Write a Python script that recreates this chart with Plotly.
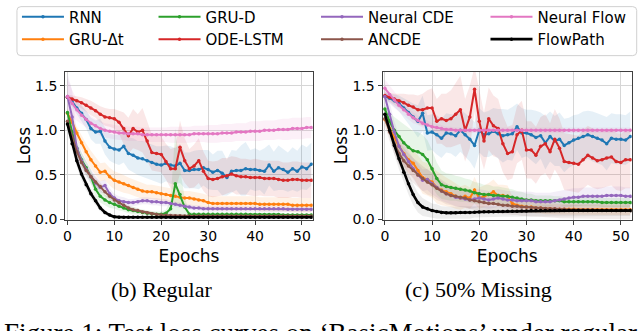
import plotly.graph_objects as go
from plotly.subplots import make_subplots

epochs = list(range(53))

# ---- (b) Regular: mean test loss per epoch ----
rnn_reg = [1.37, 1.32, 1.25, 1.19, 1.12, 1.02, 0.98, 0.99, 0.88, 0.81, 0.79, 0.78, 0.82, 0.74, 0.72, 0.69, 0.68, 0.66,
           0.64, 0.62, 0.61, 0.63, 0.61, 0.60, 0.63, 0.55, 0.55, 0.56, 0.56, 0.58, 0.56, 0.53, 0.55, 0.52, 0.47, 0.54,
           0.55, 0.55, 0.57, 0.56, 0.56, 0.55, 0.54, 0.61, 0.54, 0.58, 0.56, 0.53, 0.57, 0.54, 0.59, 0.57, 0.62]
grudt_reg = [1.19, 1.09, 0.97, 0.86, 0.76, 0.67, 0.60, 0.53, 0.54, 0.48, 0.44, 0.42, 0.40, 0.38, 0.36, 0.34, 0.32, 0.31,
             0.31, 0.30, 0.29, 0.28, 0.27, 0.26, 0.25, 0.24, 0.24, 0.23, 0.22, 0.21, 0.19, 0.18, 0.18, 0.18, 0.18, 0.18,
             0.18, 0.18, 0.18, 0.18, 0.18, 0.17, 0.17, 0.17, 0.17, 0.17, 0.17, 0.17, 0.16, 0.16, 0.16, 0.16, 0.16]
grud_reg = [1.20, 0.98, 0.80, 0.67, 0.58, 0.48, 0.34, 0.26, 0.22, 0.19, 0.17, 0.15, 0.13, 0.11, 0.10, 0.09, 0.08, 0.07,
            0.065, 0.06, 0.06, 0.07, 0.12, 0.40, 0.28, 0.14, 0.06, 0.06, 0.06, 0.06, 0.06, 0.06, 0.06, 0.06, 0.06, 0.06,
            0.06, 0.06, 0.06, 0.055, 0.055, 0.055, 0.055, 0.055, 0.055, 0.055, 0.05, 0.05, 0.05, 0.05, 0.05, 0.05, 0.05]
odelstm_reg = [1.37, 1.35, 1.33, 1.31, 1.28, 1.25, 1.22, 1.18, 1.15, 1.14, 1.13, 1.09, 1.02, 0.94, 1.02, 0.98, 1.00, 0.88,
               0.75, 0.74, 0.73, 0.65, 0.57, 0.57, 0.81, 0.66, 0.57, 0.60, 0.66, 0.54, 0.46, 0.45, 0.46, 0.48, 0.49, 0.51,
               0.49, 0.48, 0.48, 0.47, 0.47, 0.47, 0.46, 0.46, 0.46, 0.45, 0.44, 0.44, 0.45, 0.45, 0.44, 0.44, 0.44]
ncde_reg = [1.38, 1.15, 0.80, 0.66, 0.56, 0.48, 0.41, 0.36, 0.38, 0.29, 0.24, 0.21, 0.20, 0.19, 0.19, 0.20, 0.21, 0.21,
            0.20, 0.20, 0.19, 0.19, 0.18, 0.17, 0.16, 0.15, 0.14, 0.13, 0.13, 0.12, 0.12, 0.12, 0.12, 0.12, 0.12, 0.12,
            0.12, 0.12, 0.12, 0.12, 0.12, 0.12, 0.12, 0.12, 0.12, 0.12, 0.12, 0.115, 0.115, 0.115, 0.115, 0.115, 0.115]
ancde_reg = [1.10, 0.92, 0.76, 0.64, 0.55, 0.48, 0.42, 0.37, 0.31, 0.26, 0.22, 0.19, 0.16, 0.13, 0.11, 0.10, 0.085, 0.075,
             0.065, 0.055, 0.05, 0.048, 0.045, 0.043, 0.042, 0.04, 0.04, 0.04, 0.04, 0.04, 0.04, 0.04, 0.04, 0.04, 0.04,
             0.04, 0.04, 0.04, 0.04, 0.04, 0.04, 0.04, 0.04, 0.04, 0.04, 0.04, 0.04, 0.04, 0.04, 0.04, 0.04, 0.04, 0.04]
nflow_reg = [1.38, 1.30, 1.23, 1.17, 1.12, 1.08, 1.05, 1.02, 1.00, 0.99, 0.98, 0.97, 0.97, 0.96, 0.96, 0.96, 0.95, 0.95,
             0.95, 0.95, 0.95, 0.95, 0.95, 0.95, 0.95, 0.95, 0.95, 0.96, 0.96, 0.96, 0.96, 0.96, 0.96, 0.97, 0.97, 0.97,
             0.98, 0.98, 0.98, 0.99, 0.99, 0.99, 1.00, 1.00, 1.00, 1.01, 1.01, 1.01, 1.02, 1.02, 1.02, 1.03, 1.03]
flowpath_reg = [1.07, 0.85, 0.66, 0.51, 0.39, 0.29, 0.21, 0.13, 0.08, 0.05, 0.03, 0.025, 0.025, 0.025, 0.025, 0.025,
                0.025, 0.025, 0.025, 0.025, 0.025, 0.025, 0.025, 0.025, 0.025, 0.025, 0.025, 0.025, 0.025, 0.025, 0.025,
                0.025, 0.025, 0.025, 0.025, 0.025, 0.025, 0.025, 0.025, 0.025, 0.025, 0.025, 0.025, 0.025, 0.025, 0.025,
                0.025, 0.025, 0.025, 0.025, 0.025, 0.025, 0.025]

# std bands (Regular)
rnn_reg_sd = [0.03, 0.05, 0.07, 0.09, 0.10, 0.12, 0.13, 0.14, 0.15, 0.15, 0.16, 0.17, 0.18, 0.18, 0.19, 0.19, 0.20, 0.20,
              0.20, 0.20, 0.21, 0.20, 0.21, 0.20, 0.22, 0.20, 0.20, 0.21, 0.22, 0.20, 0.22, 0.20, 0.22, 0.25, 0.20, 0.24,
              0.22, 0.28, 0.30, 0.22, 0.24, 0.22, 0.26, 0.23, 0.22, 0.25, 0.23, 0.22, 0.24, 0.23, 0.25, 0.24, 0.24]
grudt_reg_sd = [0.05, 0.06, 0.07, 0.08, 0.09, 0.10, 0.10, 0.10, 0.10, 0.10, 0.10, 0.10, 0.10, 0.09, 0.09, 0.09, 0.09, 0.08,
                0.08, 0.08, 0.08, 0.08, 0.08, 0.08, 0.08, 0.08, 0.08, 0.08, 0.08, 0.08, 0.08, 0.08, 0.08, 0.08, 0.08, 0.08,
                0.08, 0.08, 0.08, 0.08, 0.08, 0.08, 0.08, 0.08, 0.08, 0.08, 0.08, 0.08, 0.08, 0.08, 0.08, 0.08, 0.08]
grud_reg_sd = [0.05, 0.06, 0.07, 0.08, 0.08, 0.08, 0.08, 0.07, 0.06, 0.06, 0.05, 0.05, 0.04, 0.04, 0.04, 0.03, 0.03, 0.03,
               0.03, 0.03, 0.03, 0.04, 0.10, 0.62, 0.30, 0.10, 0.03, 0.02, 0.02, 0.02, 0.02, 0.02, 0.02, 0.02, 0.02, 0.02,
               0.02, 0.02, 0.02, 0.02, 0.02, 0.02, 0.02, 0.02, 0.02, 0.02, 0.02, 0.02, 0.02, 0.02, 0.02, 0.02, 0.02]
odelstm_reg_sd = [0.03, 0.04, 0.05, 0.06, 0.07, 0.08, 0.08, 0.09, 0.10, 0.10, 0.11, 0.13, 0.18, 0.20, 0.22, 0.20, 0.25,
                  0.22, 0.20, 0.20, 0.20, 0.20, 0.22, 0.24, 0.30, 0.25, 0.22, 0.24, 0.25, 0.22, 0.20, 0.20, 0.20, 0.21,
                  0.20, 0.20, 0.21, 0.20, 0.20, 0.20, 0.21, 0.20, 0.20, 0.20, 0.20, 0.21, 0.20, 0.20, 0.20, 0.20, 0.20,
                  0.20, 0.20]
ncde_reg_sd = [0.25, 0.30, 0.15, 0.10, 0.09, 0.08, 0.08, 0.07, 0.07, 0.06, 0.05, 0.05, 0.05, 0.04, 0.04, 0.04, 0.04, 0.04,
               0.04, 0.04, 0.04, 0.04, 0.03, 0.03, 0.03, 0.03, 0.03, 0.03, 0.03, 0.03, 0.03, 0.03, 0.03, 0.03, 0.03, 0.03,
               0.03, 0.03, 0.03, 0.03, 0.03, 0.03, 0.03, 0.03, 0.03, 0.03, 0.03, 0.03, 0.03, 0.03, 0.03, 0.03, 0.03]
ancde_reg_sd = [0.05, 0.05, 0.05, 0.05, 0.05, 0.05, 0.05, 0.05, 0.05, 0.04, 0.04, 0.04, 0.03, 0.03, 0.03, 0.03, 0.02, 0.02,
                0.02, 0.02, 0.02, 0.02, 0.02, 0.02, 0.02, 0.02, 0.02, 0.02, 0.02, 0.02, 0.02, 0.02, 0.02, 0.02, 0.02, 0.02,
                0.02, 0.02, 0.02, 0.02, 0.02, 0.02, 0.02, 0.02, 0.02, 0.02, 0.02, 0.02, 0.02, 0.02, 0.02, 0.02, 0.02]
nflow_reg_sd = [0.20, 0.15, 0.12, 0.10, 0.09, 0.08, 0.08, 0.08, 0.08, 0.08, 0.08, 0.08, 0.08, 0.08, 0.08, 0.08, 0.08, 0.08,
                0.08, 0.08, 0.08, 0.08, 0.09, 0.09, 0.09, 0.09, 0.09, 0.09, 0.09, 0.09, 0.10, 0.10, 0.10, 0.10, 0.10, 0.10,
                0.10, 0.10, 0.10, 0.11, 0.11, 0.11, 0.11, 0.11, 0.11, 0.11, 0.12, 0.12, 0.12, 0.12, 0.12, 0.12, 0.12]
flowpath_reg_sd = [0.06, 0.07, 0.07, 0.07, 0.06, 0.06, 0.05, 0.04, 0.03, 0.02, 0.02, 0.02, 0.02, 0.02, 0.02, 0.02, 0.02,
                   0.02, 0.02, 0.02, 0.02, 0.02, 0.02, 0.02, 0.02, 0.02, 0.02, 0.02, 0.02, 0.02, 0.02, 0.02, 0.02, 0.02,
                   0.02, 0.02, 0.02, 0.02, 0.02, 0.02, 0.02, 0.02, 0.02, 0.02, 0.02, 0.02, 0.02, 0.02, 0.02, 0.02, 0.02,
                   0.02, 0.02]

# ---- (c) 50% Missing ----
rnn_mis = [1.38, 1.36, 1.33, 1.30, 1.25, 1.20, 1.15, 1.10, 1.19, 0.97, 0.98, 0.95, 0.91, 0.97, 0.96, 0.94, 1.00, 0.95,
           0.90, 0.83, 1.00, 0.95, 0.96, 0.99, 0.96, 0.94, 0.95, 0.96, 1.04, 0.97, 0.97, 0.95, 0.92, 0.94, 0.86, 0.93,
           0.88, 0.90, 0.83, 0.86, 0.89, 0.91, 0.93, 0.95, 0.93, 0.91, 0.89, 0.85, 0.91, 0.90, 0.90, 0.89, 0.93]
grudt_mis = [1.12, 1.02, 0.92, 0.82, 0.74, 0.67, 0.63, 0.55, 0.47, 0.45, 0.42, 0.36, 0.33, 0.31, 0.29, 0.26, 0.24, 0.26,
             0.24, 0.33, 0.24, 0.26, 0.28, 0.31, 0.27, 0.27, 0.26, 0.18, 0.16, 0.15, 0.14, 0.14, 0.13, 0.13, 0.12, 0.12,
             0.115, 0.115, 0.115, 0.115, 0.115, 0.11, 0.11, 0.11, 0.11, 0.11, 0.11, 0.11, 0.11, 0.11, 0.11, 0.11, 0.11]
grud_mis = [1.24, 1.10, 1.00, 0.93, 0.86, 0.81, 0.77, 0.76, 0.73, 0.67, 0.57, 0.46, 0.39, 0.37, 0.36, 0.35, 0.34, 0.33,
            0.32, 0.30, 0.29, 0.28, 0.28, 0.27, 0.27, 0.26, 0.26, 0.25, 0.24, 0.23, 0.22, 0.22, 0.21, 0.21, 0.21, 0.21,
            0.21, 0.21, 0.20, 0.20, 0.20, 0.20, 0.20, 0.20, 0.20, 0.20, 0.19, 0.19, 0.19, 0.19, 0.19, 0.19, 0.19]
odelstm_mis = [1.39, 1.37, 1.35, 1.33, 1.31, 1.28, 1.26, 1.23, 1.23, 1.25, 1.25, 1.10, 1.13, 1.11, 1.13, 1.18, 1.23, 1.00,
               1.15, 1.46, 1.10, 0.88, 1.13, 1.05, 1.02, 0.85, 0.74, 0.76, 0.95, 1.00, 0.78, 0.78, 0.72, 0.82, 0.85, 0.76,
               0.90, 0.80, 0.65, 0.64, 0.63, 0.62, 0.67, 0.72, 0.69, 0.66, 0.67, 0.69, 0.70, 0.65, 0.64, 0.67, 0.67]
ncde_mis = [1.38, 1.18, 0.98, 0.82, 0.73, 0.65, 0.57, 0.50, 0.44, 0.45, 0.40, 0.36, 0.32, 0.29, 0.27, 0.25, 0.24, 0.23,
            0.22, 0.23, 0.24, 0.23, 0.22, 0.23, 0.24, 0.23, 0.22, 0.22, 0.21, 0.21, 0.21, 0.21, 0.20, 0.20, 0.20, 0.20,
            0.21, 0.22, 0.23, 0.24, 0.25, 0.25, 0.26, 0.26, 0.26, 0.26, 0.26, 0.27, 0.27, 0.27, 0.27, 0.26, 0.26]
ancde_mis = [1.13, 0.98, 0.85, 0.74, 0.66, 0.60, 0.55, 0.50, 0.46, 0.42, 0.39, 0.35, 0.32, 0.29, 0.27, 0.26, 0.25, 0.24,
             0.22, 0.21, 0.20, 0.19, 0.18, 0.18, 0.17, 0.16, 0.16, 0.15, 0.15, 0.14, 0.14, 0.135, 0.13, 0.13, 0.125,
             0.12, 0.12, 0.115, 0.115, 0.11, 0.11, 0.11, 0.11, 0.11, 0.11, 0.105, 0.105, 0.105, 0.10, 0.10, 0.10, 0.10,
             0.10]
nflow_mis = [1.47, 1.40, 1.34, 1.28, 1.23, 1.18, 1.14, 1.11, 1.08, 1.06, 1.04, 1.03, 1.02, 1.01, 1.01, 1.00, 1.00, 1.00,
             1.00, 1.00, 1.00, 1.00, 1.00, 1.00, 1.00, 1.00, 1.00, 1.00, 1.00, 1.00, 1.00, 1.00, 1.00, 1.00, 1.00, 1.00,
             1.00, 1.00, 1.00, 1.00, 1.00, 1.00, 1.00, 1.00, 1.00, 1.00, 1.00, 1.00, 1.00, 1.00, 1.00, 1.00, 1.00]
flowpath_mis = [1.18, 1.00, 0.83, 0.68, 0.53, 0.40, 0.28, 0.19, 0.14, 0.12, 0.10, 0.09, 0.08, 0.075, 0.075, 0.075, 0.078,
                0.08, 0.08, 0.082, 0.085, 0.086, 0.087, 0.088, 0.09, 0.09, 0.092, 0.093, 0.094, 0.095, 0.095, 0.10, 0.10,
                0.10, 0.10, 0.10, 0.10, 0.10, 0.10, 0.10, 0.10, 0.10, 0.10, 0.10, 0.10, 0.10, 0.10, 0.10, 0.10, 0.10,
                0.10, 0.10, 0.10]

# std bands (50% Missing)
rnn_mis_sd = [0.04, 0.05, 0.07, 0.09, 0.11, 0.13, 0.15, 0.18, 0.20, 0.20, 0.20, 0.22, 0.22, 0.22, 0.22, 0.24, 0.24, 0.24,
              0.25, 0.26, 0.25, 0.25, 0.26, 0.26, 0.28, 0.30, 0.28, 0.30, 0.26, 0.28, 0.26, 0.28, 0.30, 0.26, 0.30, 0.28,
              0.28, 0.30, 0.30, 0.28, 0.28, 0.27, 0.28, 0.27, 0.28, 0.28, 0.28, 0.30, 0.28, 0.28, 0.28, 0.28, 0.28]
grudt_mis_sd = [0.05, 0.08, 0.10, 0.12, 0.14, 0.15, 0.16, 0.17, 0.18, 0.18, 0.18, 0.18, 0.17, 0.16, 0.15, 0.14, 0.13, 0.13,
                0.12, 0.15, 0.12, 0.12, 0.13, 0.14, 0.12, 0.12, 0.12, 0.08, 0.07, 0.07, 0.06, 0.06, 0.06, 0.06, 0.06,
                0.06, 0.06, 0.06, 0.06, 0.06, 0.06, 0.06, 0.06, 0.06, 0.06, 0.06, 0.06, 0.06, 0.06, 0.06, 0.06, 0.06,
                0.06]
grud_mis_sd = [0.05, 0.10, 0.15, 0.18, 0.20, 0.22, 0.22, 0.22, 0.22, 0.22, 0.21, 0.18, 0.16, 0.15, 0.15, 0.14, 0.14, 0.13,
               0.13, 0.12, 0.12, 0.11, 0.11, 0.10, 0.10, 0.10, 0.09, 0.09, 0.08, 0.08, 0.07, 0.07, 0.06, 0.06, 0.06, 0.06,
               0.05, 0.05, 0.05, 0.05, 0.05, 0.05, 0.05, 0.05, 0.05, 0.05, 0.05, 0.05, 0.05, 0.05, 0.05, 0.05, 0.05]
odelstm_mis_sd = [0.04, 0.05, 0.06, 0.08, 0.10, 0.12, 0.14, 0.16, 0.18, 0.20, 0.22, 0.25, 0.28, 0.30, 0.32, 0.35, 0.38,
                  0.35, 0.35, 0.25, 0.35, 0.32, 0.35, 0.34, 0.33, 0.32, 0.30, 0.30, 0.32, 0.33, 0.32, 0.32, 0.32, 0.33,
                  0.33, 0.32, 0.34, 0.33, 0.32, 0.32, 0.32, 0.32, 0.33, 0.33, 0.33, 0.32, 0.32, 0.32, 0.32, 0.32, 0.32,
                  0.32, 0.32]
ncde_mis_sd = [0.15, 0.12, 0.12, 0.12, 0.12, 0.12, 0.12, 0.12, 0.12, 0.12, 0.12, 0.11, 0.11, 0.10, 0.10, 0.10, 0.10, 0.10,
               0.10, 0.10, 0.10, 0.10, 0.10, 0.10, 0.10, 0.10, 0.10, 0.10, 0.10, 0.10, 0.10, 0.10, 0.10, 0.10, 0.10, 0.10,
               0.10, 0.10, 0.10, 0.10, 0.10, 0.10, 0.10, 0.10, 0.10, 0.10, 0.10, 0.10, 0.10, 0.10, 0.10, 0.10, 0.10]
ancde_mis_sd = [0.08, 0.10, 0.12, 0.13, 0.14, 0.14, 0.14, 0.14, 0.14, 0.14, 0.13, 0.13, 0.12, 0.12, 0.11, 0.11, 0.11, 0.10,
                0.10, 0.10, 0.10, 0.10, 0.10, 0.10, 0.10, 0.10, 0.10, 0.10, 0.10, 0.10, 0.10, 0.10, 0.10, 0.10, 0.10,
                0.10, 0.10, 0.10, 0.10, 0.10, 0.10, 0.10, 0.10, 0.10, 0.10, 0.10, 0.10, 0.10, 0.10, 0.10, 0.10, 0.10,
                0.10]
nflow_mis_sd = [0.10, 0.10, 0.09, 0.08, 0.07, 0.06, 0.06, 0.05, 0.05, 0.05, 0.04, 0.04, 0.04, 0.03, 0.03, 0.03, 0.03, 0.03,
                0.03, 0.03, 0.03, 0.03, 0.03, 0.03, 0.03, 0.03, 0.03, 0.03, 0.03, 0.03, 0.03, 0.03, 0.03, 0.03, 0.03,
                0.03, 0.03, 0.03, 0.03, 0.03, 0.03, 0.03, 0.03, 0.03, 0.03, 0.03, 0.03, 0.03, 0.03, 0.03, 0.03, 0.03,
                0.03]
flowpath_mis_sd = [0.06, 0.08, 0.10, 0.12, 0.12, 0.12, 0.12, 0.11, 0.10, 0.09, 0.08, 0.08, 0.07, 0.07, 0.07, 0.07, 0.07,
                   0.07, 0.07, 0.06, 0.06, 0.06, 0.06, 0.06, 0.06, 0.06, 0.06, 0.06, 0.06, 0.06, 0.06, 0.06, 0.06, 0.06,
                   0.06, 0.06, 0.06, 0.06, 0.06, 0.06, 0.06, 0.06, 0.06, 0.06, 0.06, 0.06, 0.06, 0.06, 0.06, 0.06, 0.06,
                   0.06, 0.06]

methods = ['RNN', 'GRU-\u0394t', 'GRU-D', 'ODE-LSTM', 'Neural CDE', 'ANCDE', 'Neural Flow', 'FlowPath']
colors = ['#1f77b4', '#ff7f0e', '#2ca02c', '#d62728', '#9467bd', '#8c564b', '#e377c2', '#000000']
legend_ids = ['legend', 'legend', 'legend2', 'legend2', 'legend3', 'legend3', 'legend4', 'legend4']

regular = [rnn_reg, grudt_reg, grud_reg, odelstm_reg, ncde_reg, ancde_reg, nflow_reg, flowpath_reg]
regular_sd = [rnn_reg_sd, grudt_reg_sd, grud_reg_sd, odelstm_reg_sd, ncde_reg_sd, ancde_reg_sd, nflow_reg_sd,
              flowpath_reg_sd]
missing = [rnn_mis, grudt_mis, grud_mis, odelstm_mis, ncde_mis, ancde_mis, nflow_mis, flowpath_mis]
missing_sd = [rnn_mis_sd, grudt_mis_sd, grud_mis_sd, odelstm_mis_sd, ncde_mis_sd, ancde_mis_sd, nflow_mis_sd,
              flowpath_mis_sd]


def rgba(hex_color, a):
    h = hex_color.lstrip('#')
    return f'rgba({int(h[0:2], 16)},{int(h[2:4], 16)},{int(h[4:6], 16)},{a})'


fig = make_subplots(rows=1, cols=2)

for col, (means, sds) in enumerate([(regular, regular_sd), (missing, missing_sd)], start=1):
    # shaded std bands first
    for name, color, m, s in zip(methods, colors, means, sds):
        upper = [a + b for a, b in zip(m, s)]
        lower = [a - b for a, b in zip(m, s)]
        fig.add_trace(go.Scatter(
            x=epochs + epochs[::-1], y=upper + lower[::-1],
            fill='toself', fillcolor=rgba(color, 0.11 if color != '#000000' else 0.07),
            line=dict(width=0), mode='lines', hoverinfo='skip', showlegend=False
        ), row=1, col=col)
    # mean curves
    for name, color, m, lg in zip(methods, colors, means, legend_ids):
        fig.add_trace(go.Scatter(
            x=epochs, y=m, name=name, mode='lines+markers',
            line=dict(color=color, width=2.6 if name == 'FlowPath' else 2),
            marker=dict(color=color, size=3.5),
            legend=lg, showlegend=(col == 1)
        ), row=1, col=col)

axis_font = dict(family='DejaVu Sans', size=14, color='black')
title_font = dict(family='DejaVu Sans', size=17, color='black')
common_x = dict(range=[-0.5, 52.3], tickvals=[0, 10, 20, 30, 40, 50], showgrid=True, gridcolor='#d6d6d6',
                gridwidth=1, zeroline=False, showline=True, mirror=True, linecolor='#404040', linewidth=1,
                ticks='outside', ticklen=4, tickcolor='#404040', tickfont=axis_font,
                title=dict(text='Epochs', font=title_font, standoff=6))
common_y = dict(range=[0, 1.658], tickvals=[0, 0.5, 1.0, 1.5], tickformat='.1f', showgrid=True, gridcolor='#d6d6d6',
                gridwidth=1, zeroline=False, showline=True, mirror=True, linecolor='#404040', linewidth=1,
                ticks='outside', ticklen=4, tickcolor='#404040', tickfont=axis_font,
                title=dict(text='Loss', font=title_font, standoff=0))

fig.update_layout(
    xaxis=dict(domain=[63.3 / 640, 311.7 / 640], **common_x),
    xaxis2=dict(domain=[381.7 / 640, 631.7 / 640], **common_x),
    yaxis=dict(domain=[(331 - 223.3) / 331, (331 - 69.3) / 331], **common_y),
    yaxis2=dict(domain=[(331 - 223.3) / 331, (331 - 69.3) / 331], **common_y),
)

# legend: four columns of two entries, inside one framed box
legend_style = dict(bgcolor='rgba(0,0,0,0)', borderwidth=0, itemwidth=42, xanchor='left', yanchor='top',
                    y=1.0144, font=dict(family='DejaVu Sans', size=15, color='black'), tracegroupgap=0)
fig.update_layout(
    legend=dict(x=15 / 640, **legend_style),
    legend2=dict(x=152 / 640, **legend_style),
    legend3=dict(x=315 / 640, **legend_style),
    legend4=dict(x=485 / 640, **legend_style),
)

x0, x1 = 15 / 640, 636.7 / 640
y0, y1 = (331 - 52.7) / 331, (331 - 1.7) / 331
rx, ry = 4 / 640, 4 / 331
box_path = (f'M {x0 + rx},{y1} L {x1 - rx},{y1} Q {x1},{y1} {x1},{y1 - ry} L {x1},{y0 + ry} '
            f'Q {x1},{y0} {x1 - rx},{y0} L {x0 + rx},{y0} Q {x0},{y0} {x0},{y0 + ry} '
            f'L {x0},{y1 - ry} Q {x0},{y1} {x0 + rx},{y1} Z')
fig.add_shape(type='path', path=box_path, xref='paper', yref='paper',
              line=dict(color='#d0d0d0', width=1), fillcolor='white', layer='below')

serif = 'Liberation Serif, Times New Roman, serif'
fig.add_annotation(text='(b) Regular', x=160 / 640, y=(331 - 296) / 331, xref='paper', yref='paper',
                   showarrow=False, xanchor='center', yanchor='middle', font=dict(family=serif, size=22, color='black'))
fig.add_annotation(text='(c) 50% Missing', x=478 / 640, y=(331 - 296) / 331, xref='paper', yref='paper',
                   showarrow=False, xanchor='center', yanchor='middle', font=dict(family=serif, size=22, color='black'))
fig.add_annotation(text='Figure 1: Test loss curves on \u2018BasicMotions\u2019 under regular', x=0,
                   y=(331 - 324) / 331, xref='paper', yref='paper', showarrow=False, xanchor='left', yanchor='top',
                   font=dict(family=serif, size=27, color='black'))

fig.update_layout(
    width=640, height=331,
    margin=dict(l=0, r=0, t=0, b=0),
    plot_bgcolor='white', paper_bgcolor='white',
    hovermode='closest'
)

# the page's default 8px body margin would shift the whole figure
fig.write_html("out.html", config={'displayModeBar': False},
               post_script="document.body.style.margin='0';")
